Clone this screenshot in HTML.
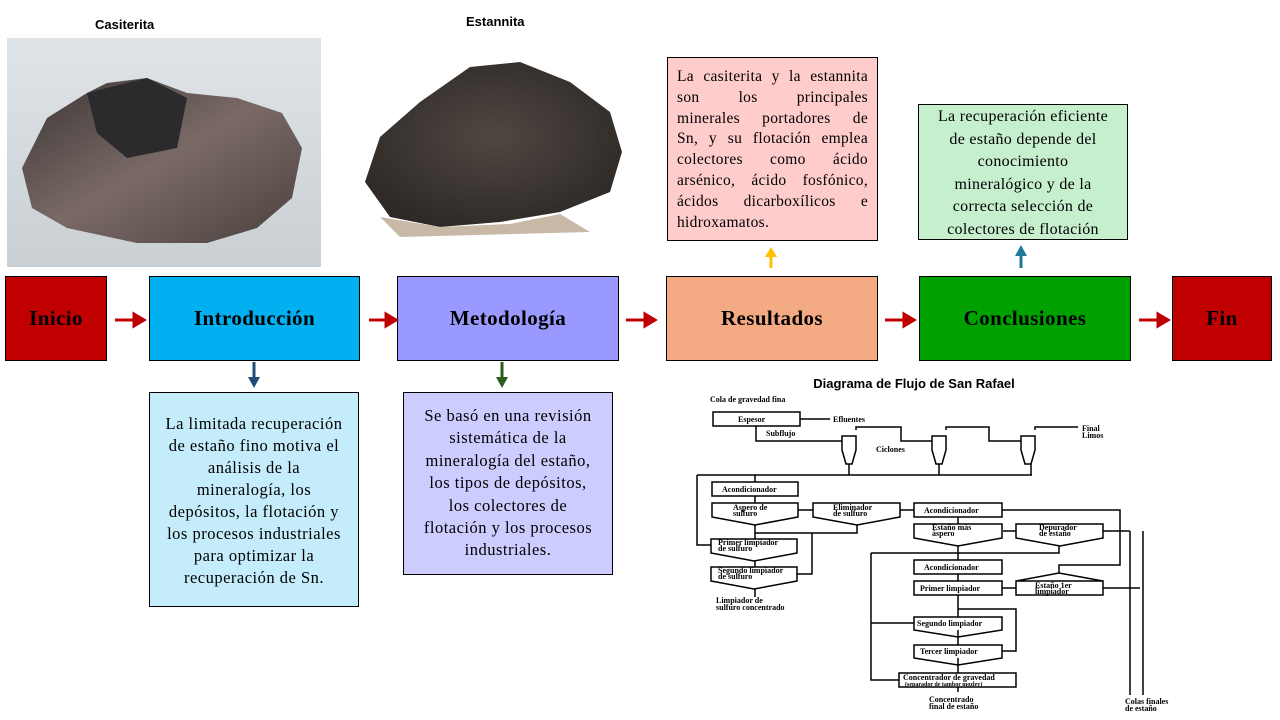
<!DOCTYPE html>
<html><head><meta charset="utf-8"><style>
body{margin:0;width:1280px;height:720px;background:#fff;position:relative;overflow:hidden;font-family:"Liberation Serif",serif}
.b{position:absolute;border:1.5px solid #000;box-sizing:border-box;display:flex;align-items:center;justify-content:center;font-weight:bold;font-size:21px;letter-spacing:0.4px}
.t{position:absolute;border:1.5px solid #000;box-sizing:border-box;font-size:16.5px;letter-spacing:0.5px;text-align:center;white-space:nowrap}
.j div{text-align:justify;text-align-last:justify}
.lbl{position:absolute;font-family:"Liberation Sans",sans-serif;font-weight:bold;font-size:13px}
</style></head><body>
<div class="lbl" style="left:95px;top:17px">Casiterita</div>
<div class="lbl" style="left:466px;top:14px">Estannita</div>
<svg style="position:absolute;left:7px;top:38px" width="314" height="229">
<defs><linearGradient id="bg1" x1="0" y1="0" x2="0" y2="1"><stop offset="0" stop-color="#dfe4e8"/><stop offset="1" stop-color="#c9cfd3"/></linearGradient>
<linearGradient id="r1" x1="0" y1="0" x2="1" y2="1"><stop offset="0" stop-color="#3a3535"/><stop offset=".5" stop-color="#7a6a66"/><stop offset="1" stop-color="#4a403e"/></linearGradient></defs>
<rect width="314" height="229" fill="url(#bg1)"/>
<polygon points="15,130 40,80 80,55 100,45 140,40 180,55 230,60 275,75 295,110 285,160 250,190 200,205 130,205 60,190 25,170" fill="url(#r1)"/>
<polygon points="80,55 140,40 180,60 170,110 120,120 90,95" fill="#2b2a2c"/>
</svg>
<svg style="position:absolute;left:360px;top:42px" width="266" height="196">
<defs><radialGradient id="r2" cx=".5" cy=".45" r=".6"><stop offset="0" stop-color="#4f4742"/><stop offset="1" stop-color="#2e2926"/></radialGradient></defs>
<polygon points="5,140 20,95 60,60 110,25 160,20 210,40 250,70 262,110 250,150 200,170 140,180 80,185 30,175" fill="url(#r2)"/>
<polygon points="20,175 80,185 150,182 200,172 230,190 40,195" fill="#c8b9a6"/>
</svg>
<div class="t j" style="left:667px;top:57px;width:211px;height:184px;background:#ffcccc;padding:9px 9px;line-height:20.8px;font-size:15.5px;letter-spacing:0.3px">
<div>La casiterita y la estannita</div><div>son los principales</div><div>minerales portadores de</div><div>Sn, y su flotación emplea</div><div>colectores como ácido</div><div>arsénico, ácido fosfónico,</div><div>ácidos dicarboxílicos e</div><div style="text-align-last:left">hidroxamatos.</div></div>
<div class="t" style="left:918px;top:104px;width:210px;height:136px;background:#c6efce;padding:1px 4px;line-height:22.6px;font-size:16px;letter-spacing:0.3px">La recuperación eficiente<br>de estaño depende del<br>conocimiento<br>mineralógico y de la<br>correcta selección de<br>colectores de flotación</div>
<div class="b" style="left:5px;top:276px;width:102px;height:85px;background:#c00000">Inicio</div>
<div class="b" style="left:149px;top:276px;width:211px;height:85px;background:#00b0f0">Introducción</div>
<div class="b" style="left:397px;top:276px;width:222px;height:85px;background:#9999ff">Metodología</div>
<div class="b" style="left:666px;top:276px;width:212px;height:85px;background:#f4aa82">Resultados</div>
<div class="b" style="left:919px;top:276px;width:212px;height:85px;background:#00a000">Conclusiones</div>
<div class="b" style="left:1172px;top:276px;width:100px;height:85px;background:#c00000">Fin</div>
<div class="t" style="left:149px;top:392px;width:210px;height:215px;background:#c5ecfb;padding:20px 4px;line-height:22px">La limitada recuperación<br>de estaño fino motiva el<br>análisis de la<br>mineralogía, los<br>depósitos, la flotación y<br>los procesos industriales<br>para optimizar la<br>recuperación de Sn.</div>
<div class="t" style="left:403px;top:392px;width:210px;height:183px;background:#ccccff;padding:12px 4px;line-height:22.4px">Se basó en una revisión<br>sistemática de la<br>mineralogía del estaño,<br>los tipos de depósitos,<br>los colectores de<br>flotación y los procesos<br>industriales.</div>
<svg style="position:absolute;left:0;top:0" width="1280" height="720">
<g stroke="#c00000" stroke-width="3" fill="#c00000">
<line x1="115" y1="320" x2="134" y2="320"/><polygon points="134,314 144,320 134,326"/>
<line x1="369" y1="320" x2="386" y2="320"/><polygon points="386,314 396,320 386,326"/>
<line x1="626" y1="320" x2="645" y2="320"/><polygon points="645,314 655,320 645,326"/>
<line x1="885" y1="320" x2="904" y2="320"/><polygon points="904,314 914,320 904,326"/>
<line x1="1139" y1="320" x2="1158" y2="320"/><polygon points="1158,314 1168,320 1158,326"/>
</g>
<line x1="254" y1="362" x2="254" y2="378" stroke="#1f4e79" stroke-width="3"/><polygon points="248,377 254,388 260,377" fill="#1f4e79"/>
<line x1="502" y1="362" x2="502" y2="378" stroke="#2e5c1e" stroke-width="3"/><polygon points="496,377 502,388 508,377" fill="#2e5c1e"/>
<line x1="771" y1="268" x2="771" y2="256" stroke="#ffc000" stroke-width="3"/><polygon points="765,257 771,247 777,257" fill="#ffc000"/>
<line x1="1021" y1="268" x2="1021" y2="254" stroke="#1f7a9a" stroke-width="3"/><polygon points="1015,256 1021,245 1027,256" fill="#1f7a9a"/>
<text x="914" y="388" font-family="Liberation Sans" font-weight="bold" font-size="13" text-anchor="middle">Diagrama de Flujo de San Rafael</text>
<g font-family="Liberation Serif" font-size="8" stroke="#000" stroke-width="1.5" fill="none">
<g fill="none">
<rect x="713" y="412" width="87" height="14"/>
<path d="M800,419H830M756,426V441H842M842,436h14v14l-4,14h-6l-4,-14zM856,430V427H901V441H932M932,436h14v14l-4,14h-6l-4,-14zM946,430V427H989V441H1021M1021,436h14v14l-4,14h-6l-4,-14zM1035,430V427H1078"/>
<path d="M697,475H1032M697,475V545H711M755,475V482M849,464V475M939,464V475M1031,464V475"/>
<rect x="712" y="482" width="86" height="14"/>
<path d="M712,503h86v14l-43,8l-43,-8z"/><path d="M813,503h87v14l-43,8l-44,-8z"/>
<path d="M914,503h88v14h-88z"/><path d="M914,524h88v14l-44,8l-44,-8z"/><path d="M1016,524h87v14l-43,8l-44,-8z"/>
<path d="M711,539h86v14l-43,8l-43,-8z"/><path d="M711,567h86v14l-43,8l-43,-8z"/>
<path d="M755,496V503M755,525V539M755,533H857V525M798,510H813M900,510H914M958,517V524M958,546V560M1002,510H1120V530M1003,531H1016M1103,531H1130M755,561V567M797,574H812V533M755,589V597"/>
<rect x="914" y="560" width="88" height="14"/><rect x="914" y="581" width="88" height="14"/>
<path d="M1016,581h87v14h-87zM1016,581l43,-8l44,8"/>
<path d="M958,574V581M1002,588H1016M1059,573V565H1120V530M1103,588H1140M958,595V617M958,609H1016V651H1002M871,553H1059V546M871,553V680H899M871,623H914M958,630V645M958,658V673M1130,531V695M1143,531V695"/>
<path d="M914,617h88v13l-44,7l-44,-7z"/><path d="M914,645h88v13l-44,7l-44,-7z"/>
<rect x="899" y="673" width="117" height="14"/>
<path d="M958,687V692"/>
</g>
<g stroke="none" fill="#000" font-weight="bold">
<text x="710" y="402">Cola de gravedad fina</text>
<text x="738" y="422">Espesor</text><text x="833" y="422">Efluentes</text>
<text x="766" y="436">Subflujo</text><text x="876" y="452">Ciclones</text>
<text x="1082" y="431">Final</text><text x="1082" y="438">Limos</text>
<text x="722" y="492">Acondicionador</text>
<text x="733" y="510">Aspero de</text><text x="733" y="516">sulfuro</text>
<text x="833" y="510">Eliminador</text><text x="833" y="516">de sulfuro</text>
<text x="924" y="513">Acondicionador</text>
<text x="932" y="530">Estaño más</text><text x="932" y="536">áspero</text>
<text x="1039" y="530">Depurador</text><text x="1039" y="536">de estaño</text>
<text x="718" y="545">Primer limpiador</text><text x="718" y="551">de sulfuro</text>
<text x="718" y="573">Segundo limpiador</text><text x="718" y="579">de sulfuro</text>
<text x="716" y="603">Limpiador de</text><text x="716" y="610">sulfuro concentrado</text>
<text x="924" y="570">Acondicionador</text><text x="920" y="591">Primer limpiador</text>
<text x="1035" y="588">Estaño 1er</text><text x="1035" y="594">limpiador</text>
<text x="917" y="626">Segundo limpiador</text><text x="920" y="654">Tercer limpiador</text>
<text x="903" y="680">Concentrador de gravedad</text><text x="905" y="686" font-size="6">(separador de tambor mozley)</text>
<text x="929" y="702">Concentrado</text><text x="929" y="709">final de estaño</text>
<text x="1125" y="704">Colas finales</text><text x="1125" y="711">de estaño</text>
</g></g>
</svg>
</body></html>
